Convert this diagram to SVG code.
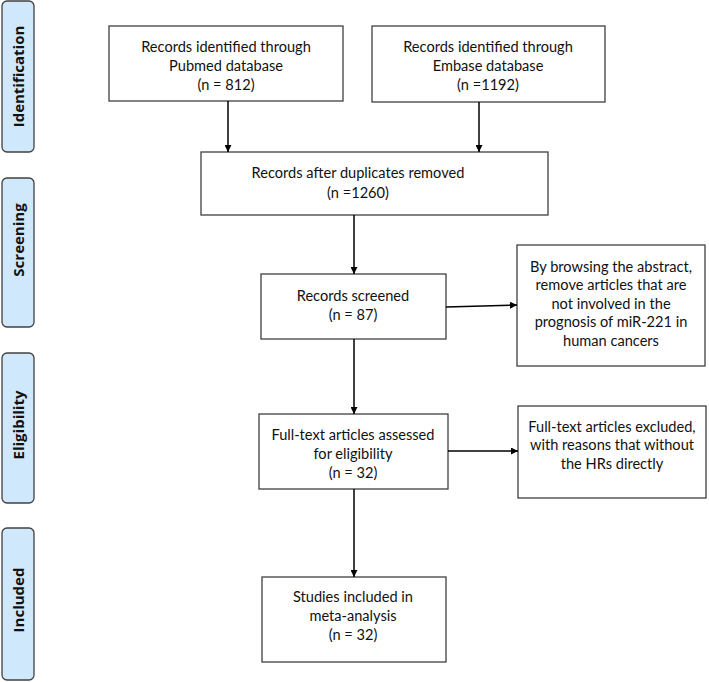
<svg xmlns="http://www.w3.org/2000/svg" width="709" height="682" viewBox="0 0 709 682">
<defs>
<style>
.box{fill:#fff;stroke:#404040;stroke-width:1.3}
.side{fill:#cfe8fb;stroke:#404040;stroke-width:1.3}
text{font-family:Lato,"Open Sans","Liberation Sans",sans-serif;font-size:14.6px;fill:#111;text-anchor:middle}
.st{font-family:"Open Sans","Liberation Sans",sans-serif;font-weight:bold;font-size:15px}
.con{stroke:#000;stroke-width:1.5;fill:none;marker-end:url(#ah)}
</style>
<marker id="ah" viewBox="0 0 10 10" refX="10" refY="5" markerWidth="7" markerHeight="7" markerUnits="userSpaceOnUse" orient="auto"><path d="M0,0 L10,5 L0,10 z" fill="#000"/></marker>
</defs>
<g id="side-identification"><rect class="side" x="2" y="1" width="32" height="151" rx="5"/><text class="st" transform="translate(23.5,76.5) rotate(-90)">Identification</text></g>
<g id="side-screening"><rect class="side" x="2" y="178" width="32" height="149" rx="5"/><text class="st" transform="translate(23.5,240) rotate(-90)">Screening</text></g>
<g id="side-eligibility"><rect class="side" x="2" y="353" width="32" height="150" rx="5"/><text class="st" transform="translate(23.5,425) rotate(-90)">Eligibility</text></g>
<g id="side-included"><rect class="side" x="2" y="528" width="32" height="152" rx="5"/><text class="st" transform="translate(23.5,600) rotate(-90)">Included</text></g>
<g id="pubmed"><rect class="box" x="109" y="26" width="234" height="75"/><text x="226" y="52">Records identified through</text><text x="226" y="71">Pubmed database</text><text x="226" y="90">(n = 812)</text></g>
<g id="embase"><rect class="box" x="372" y="26" width="233" height="76"/><text x="488" y="52">Records identified through</text><text x="488" y="71">Embase database</text><text x="488" y="90">(n =1192)</text></g>
<g id="duplicates"><rect class="box" x="201" y="152" width="347" height="63"/><text x="358" y="178">Records after duplicates removed</text><text x="358" y="198">(n =1260)</text></g>
<g id="screened"><rect class="box" x="261" y="274" width="185" height="65"/><text x="353" y="301">Records screened</text><text x="353" y="320">(n = 87)</text></g>
<g id="browse"><rect class="box" x="517" y="245" width="188" height="121"/><text x="611" y="272">By browsing the abstract,</text><text x="611" y="290">remove articles that are</text><text x="611" y="309">not involved in the</text><text x="611" y="327">prognosis of miR-221 in</text><text x="611" y="346">human cancers</text></g>
<g id="fulltext"><rect class="box" x="259" y="414" width="189" height="75"/><text x="353" y="440">Full-text articles assessed</text><text x="353" y="459">for eligibility</text><text x="353" y="478">(n = 32)</text></g>
<g id="excluded"><rect class="box" x="518" y="406" width="188" height="92"/><text x="612" y="432">Full-text articles excluded,</text><text x="612" y="450">with reasons that without</text><text x="612" y="469">the HRs directly</text></g>
<g id="included"><rect class="box" x="262" y="577" width="184" height="85"/><text x="353" y="602">Studies included in</text><text x="353" y="621">meta-analysis</text><text x="353" y="640">(n = 32)</text></g>
<g id="connectors">
<line class="con" x1="228" y1="101" x2="228" y2="152"/>
<line class="con" x1="479" y1="102" x2="479" y2="152"/>
<line class="con" x1="354" y1="215" x2="354" y2="274"/>
<line class="con" x1="446" y1="307" x2="517" y2="305"/>
<line class="con" x1="354" y1="339" x2="354" y2="414"/>
<line class="con" x1="448" y1="451" x2="518" y2="451"/>
<line class="con" x1="354" y1="489" x2="354" y2="577"/>
</g>
</svg>
